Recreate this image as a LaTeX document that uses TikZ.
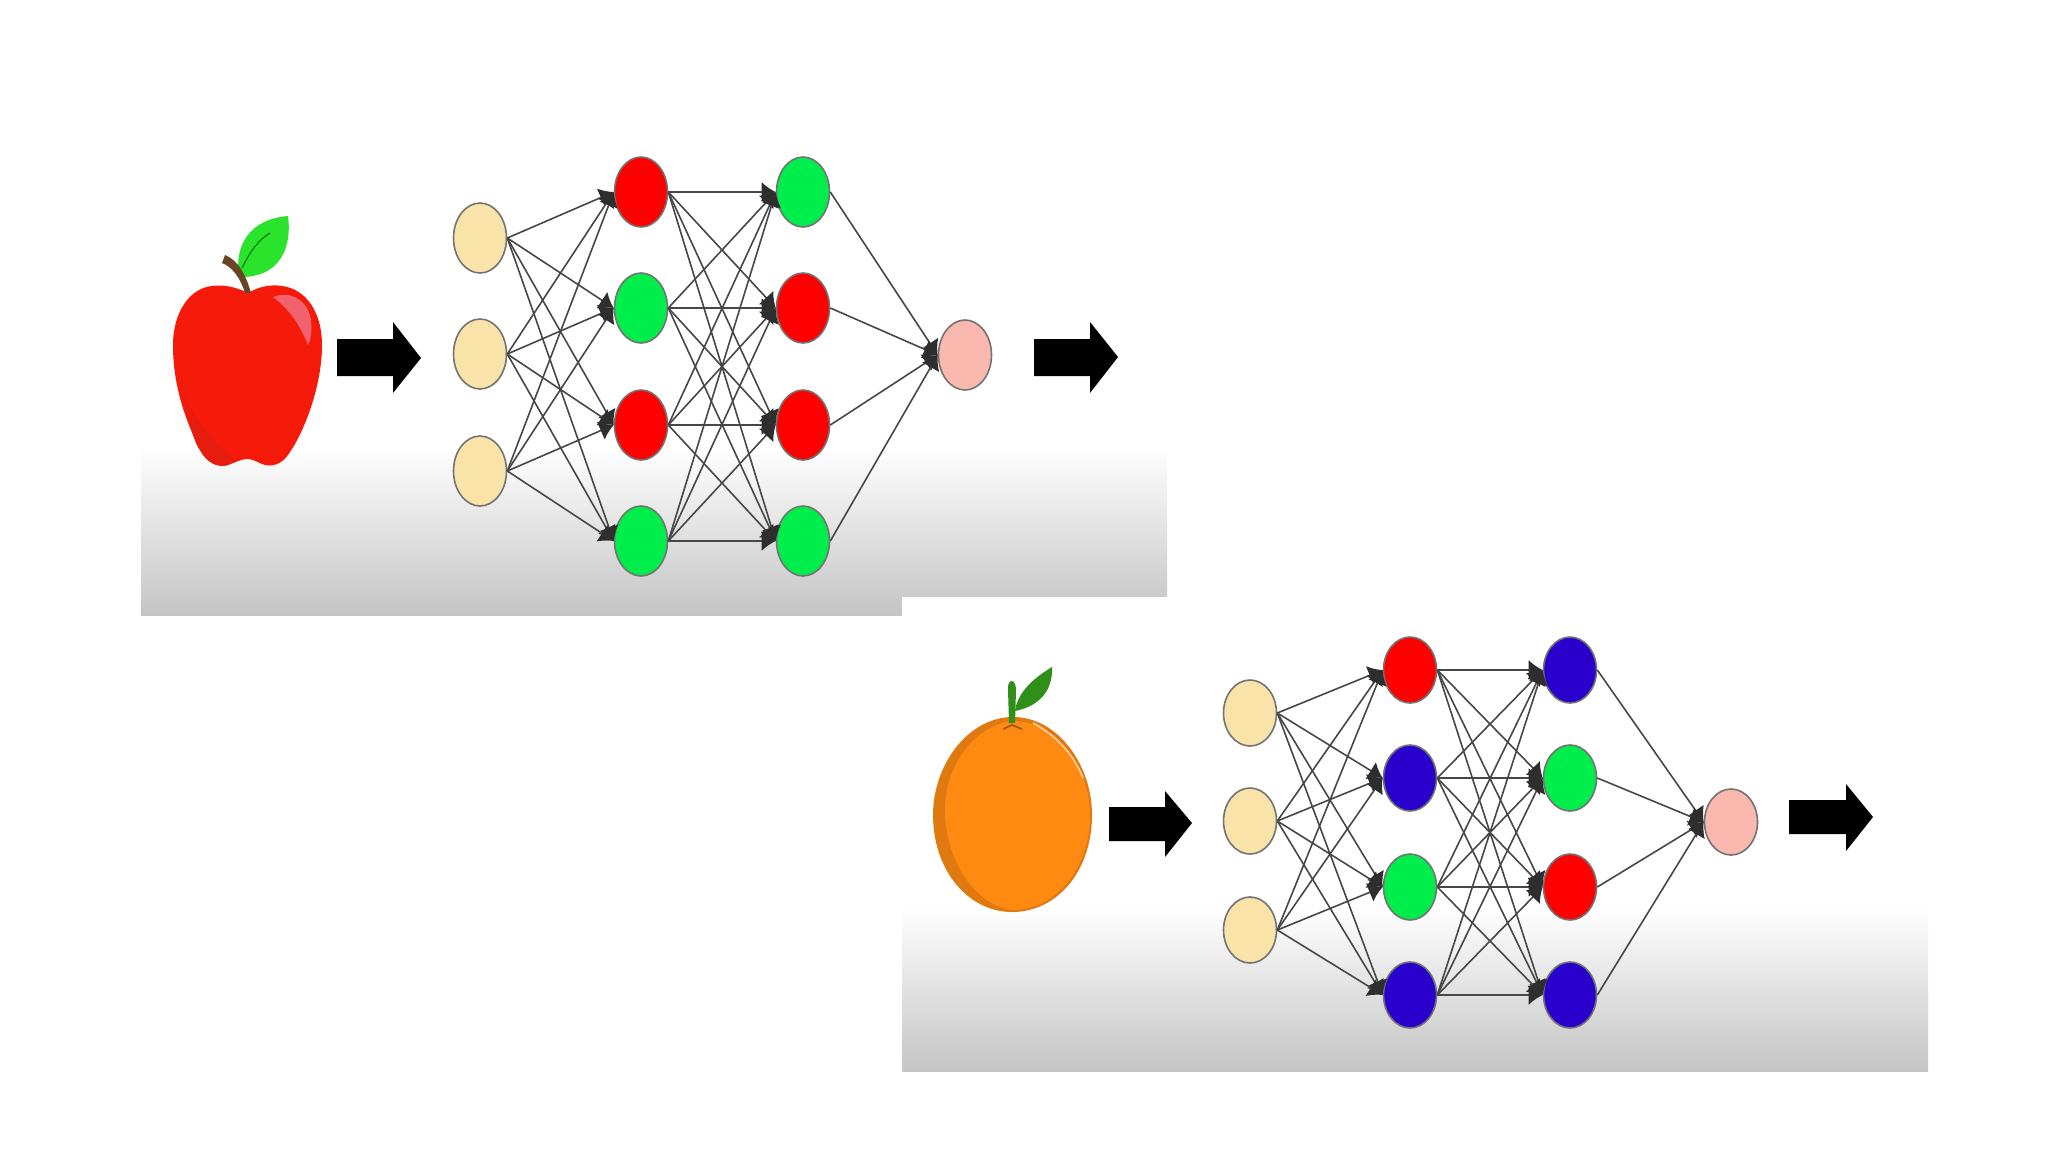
\documentclass[tikz,border=0pt]{standalone}
\usetikzlibrary{arrows.meta,shapes.geometric}

\definecolor{creamunit}{HTML}{F9E3A9}
\definecolor{redunit}{HTML}{FF0000}
\definecolor{greenunit}{HTML}{00EE4C}
\definecolor{blueunit}{HTML}{2A00CC}
\definecolor{pinkunit}{HTML}{FBB8AE}
\definecolor{applered}{HTML}{F51A0A}
\definecolor{appleshade}{HTML}{E51C0E}
\definecolor{appleshine}{HTML}{F2626E}
\definecolor{appleleaf}{HTML}{2BE32B}
\definecolor{orangebody}{HTML}{FF8A12}
\definecolor{orangeleaf}{HTML}{2F8F18}

\tikzset{
	unit/.style={ellipse, draw=black!55, line width=0.8pt, inner sep=0pt, minimum width=26.5pt},
	upper/.style={unit, minimum height=35pt},
	lower/.style={unit, minimum height=33pt},
	link/.style={color=black!72, line width=0.8pt, -{Latex[length=7pt,width=10pt,black!82]}},
	fatarrow/.style={fill=black},
	band/.style={top color=white, bottom color=black!23, draw=none}
}

\begin{document}
\begin{tikzpicture}[x=0.5pt,y=-0.5pt]
	\useasboundingbox (0,0) rectangle (2048,1152);
	\fill[white] (0,0) rectangle (2048,1152);

	% grey floors
	\shade[band] (141,447) rectangle (1167,615);
	\fill[white] (902,597) rectangle (1170,618);
	\shade[band] (902,907) rectangle (1928,1071);

	% apple
	\fill[applered] (248,293) .. controls (258,287) and (270,284) .. (282,286) .. controls (306,289) and (322,312) .. (322,345) .. controls (322,385) and (305,430) .. (290,452) .. controls (283,464) and (272,468) .. (262,464) .. controls (255,461) and (252,459) .. (247,459) .. controls (242,459) and (236,462) .. (228,465) .. controls (218,468) and (207,463) .. (200,450) .. controls (188,425) and (173,390) .. (173,345) .. controls (173,312) and (190,288) .. (212,286) .. controls (225,284) and (238,288) .. (248,293) -- cycle;
	\fill[appleshade] (184,395) .. controls (188,420) and (195,445) .. (200,450) .. controls (207,463) and (218,468) .. (228,465) .. controls (232,463) and (234,462) .. (236,461) .. controls (212,440) and (195,420) .. (184,395) -- cycle;
	\fill[appleshine] (273,297) .. controls (290,290) and (308,300) .. (311,320) .. controls (312,330) and (311,340) .. (308,345) .. controls (300,325) and (290,310) .. (273,297) -- cycle;
	\fill[appleleaf] (239,277) .. controls (234,245) and (250,219) .. (288,216) .. controls (292,245) and (282,278) .. (239,277) -- cycle;
	\draw[green!45!black, line width=0.5pt] (242,268) .. controls (250,252) and (258,240) .. (270,233);
	\fill[brown!55!black] (222,263) -- (225,255) .. controls (238,260) and (246,275) .. (251,293) -- (245,293) .. controls (240,277) and (232,267) .. (222,263) -- cycle;

	% orange
	\fill[orangebody!88!black] (1013,717) .. controls (1058,717) and (1092,765) .. (1092,815) .. controls (1092,870) and (1058,912) .. (1012,912) .. controls (968,912) and (933,870) .. (933,815) .. controls (933,765) and (968,717) .. (1013,717) -- cycle;
	\fill[orangebody] (1013,721) .. controls (1055,721) and (1090,767) .. (1090,815) .. controls (1090,868) and (1056,910) .. (1012,910) .. controls (975,905) and (945,860) .. (945,810) .. controls (945,765) and (975,725) .. (1013,721) -- cycle;
	\draw[white!60!orangebody, line width=0.8pt] (1033,723) .. controls (1056,735) and (1074,755) .. (1083,778);
	\draw[orangebody!60!black, line width=0.8pt] (1003,729) -- (1012,725) -- (1022,729);
	\fill[orangeleaf] (1009,723) -- (1008,690) .. controls (1007,678) and (1016,678) .. (1016,690) -- (1015,723) -- cycle;
	\fill[orangeleaf] (1015,711) .. controls (1017,695) and (1030,680) .. (1052,667) .. controls (1053,690) and (1040,706) .. (1015,711) -- cycle;

	% black arrows
	\fill[fatarrow] (337,339) -- (393,339) -- (393,322) -- (421,358) -- (393,393) -- (393,376) -- (337,376) -- cycle;
	\fill[fatarrow] (1034,339) -- (1090,339) -- (1090,322) -- (1118,357) -- (1090,393) -- (1090,376) -- (1034,376) -- cycle;
	\fill[fatarrow] (1109,807) -- (1165,807) -- (1165,791) -- (1192,823) -- (1165,857) -- (1165,841) -- (1109,841) -- cycle;
	\fill[fatarrow] (1789,800) -- (1846,800) -- (1846,784) -- (1873,817) -- (1846,851) -- (1846,834) -- (1789,834) -- cycle;

	% apple network
	\node[upper, fill=creamunit] (ai1) at (480,238) {};
	\node[upper, fill=creamunit] (ai2) at (480,354) {};
	\node[upper, fill=creamunit] (ai3) at (480,471) {};
	\node[upper, fill=redunit] (ah1) at (641,192) {};
	\node[upper, fill=greenunit] (ah2) at (641,308) {};
	\node[upper, fill=redunit] (ah3) at (641,425) {};
	\node[upper, fill=greenunit] (ah4) at (641,541) {};
	\node[upper, fill=greenunit] (ag1) at (803,192) {};
	\node[upper, fill=redunit] (ag2) at (803,308) {};
	\node[upper, fill=redunit] (ag3) at (803,425) {};
	\node[upper, fill=greenunit] (ag4) at (803,541) {};
	\node[upper, fill=pinkunit] (ao) at (965,355) {};
	\path[link] (ai1.east) edge (ah1.west) edge (ah2.west) edge (ah3.west) edge (ah4.west);
	\path[link] (ai2.east) edge (ah1.west) edge (ah2.west) edge (ah3.west) edge (ah4.west);
	\path[link] (ai3.east) edge (ah1.west) edge (ah2.west) edge (ah3.west) edge (ah4.west);
	\path[link] (ah1.east) edge (ag1.west) edge (ag2.west) edge (ag3.west) edge (ag4.west);
	\path[link] (ah2.east) edge (ag1.west) edge (ag2.west) edge (ag3.west) edge (ag4.west);
	\path[link] (ah3.east) edge (ag1.west) edge (ag2.west) edge (ag3.west) edge (ag4.west);
	\path[link] (ah4.east) edge (ag1.west) edge (ag2.west) edge (ag3.west) edge (ag4.west);
	\draw[link] (ag1.east) -- (ao.west);
	\draw[link] (ag2.east) -- (ao.west);
	\draw[link] (ag3.east) -- (ao.west);
	\draw[link] (ag4.east) -- (ao.west);

	% orange network
	\node[lower, fill=creamunit] (oi1) at (1250,713) {};
	\node[lower, fill=creamunit] (oi2) at (1250,821) {};
	\node[lower, fill=creamunit] (oi3) at (1250,930) {};
	\node[lower, fill=redunit] (oh1) at (1410,670) {};
	\node[lower, fill=blueunit] (oh2) at (1410,778) {};
	\node[lower, fill=greenunit] (oh3) at (1410,887) {};
	\node[lower, fill=blueunit] (oh4) at (1410,995) {};
	\node[lower, fill=blueunit] (og1) at (1570,670) {};
	\node[lower, fill=greenunit] (og2) at (1570,778) {};
	\node[lower, fill=redunit] (og3) at (1570,887) {};
	\node[lower, fill=blueunit] (og4) at (1570,995) {};
	\node[lower, fill=pinkunit] (oo) at (1731,822) {};
	\path[link] (oi1.east) edge (oh1.west) edge (oh2.west) edge (oh3.west) edge (oh4.west);
	\path[link] (oi2.east) edge (oh1.west) edge (oh2.west) edge (oh3.west) edge (oh4.west);
	\path[link] (oi3.east) edge (oh1.west) edge (oh2.west) edge (oh3.west) edge (oh4.west);
	\path[link] (oh1.east) edge (og1.west) edge (og2.west) edge (og3.west) edge (og4.west);
	\path[link] (oh2.east) edge (og1.west) edge (og2.west) edge (og3.west) edge (og4.west);
	\path[link] (oh3.east) edge (og1.west) edge (og2.west) edge (og3.west) edge (og4.west);
	\path[link] (oh4.east) edge (og1.west) edge (og2.west) edge (og3.west) edge (og4.west);
	\draw[link] (og1.east) -- (oo.west);
	\draw[link] (og2.east) -- (oo.west);
	\draw[link] (og3.east) -- (oo.west);
	\draw[link] (og4.east) -- (oo.west);
\end{tikzpicture}
\end{document}
